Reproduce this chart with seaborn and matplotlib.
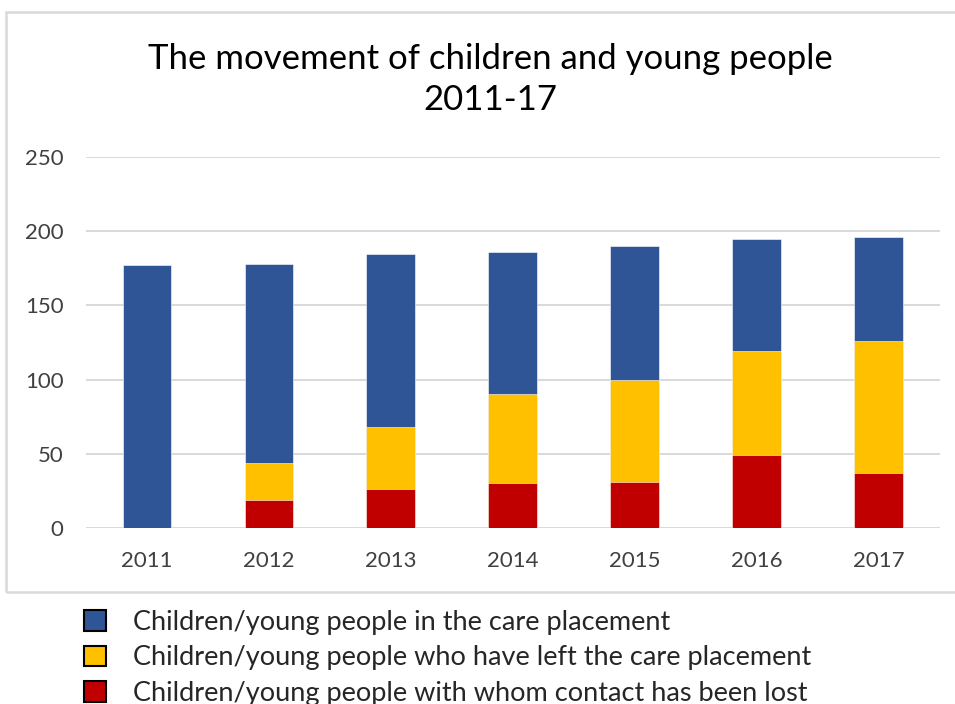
#!/usr/bin/env python3
# -*- coding: utf-8 -*-

"""
Stacked bar chart: the movement of children and young people 2011-17.
"""

import matplotlib.pyplot as plt
import seaborn as sns
from matplotlib.patches import Patch, Rectangle


# ==========================================================
# Data
# ==========================================================

YEARS = ["2011", "2012", "2013", "2014", "2015", "2016", "2017"]

IN_CARE = [177, 134, 117, 96, 90, 76, 70]
LEFT_CARE = [0, 25, 42, 60, 69, 70, 89]
CONTACT_LOST = [0, 19, 26, 30, 31, 49, 37]

SERIES_LABELS = [
    "Children/young people in the care placement",
    "Children/young people who have left the care placement",
    "Children/young people with whom contact has been lost",
]

TITLE = "The movement of children and young people\n2011-17"

Y_TICKS = [0, 50, 100, 150, 200, 250]

BLUE = "#2F5597"
YELLOW = "#FFC000"
RED = "#C00000"
GRID = "#D9D9D9"
TEXT = "#404040"


# ==========================================================
# Plot
# ==========================================================

def main():
    sns.set_theme(style="white")
    plt.rcParams["font.family"] = ["Lato", "DejaVu Sans"]

    fig = plt.figure(figsize=(9.55, 7.04), dpi=100)
    ax = fig.add_axes([0.090, 0.2504, 0.894, 0.5262])

    # cumulative heights so each layer sits on the one below
    lower = CONTACT_LOST
    middle = [r + y for r, y in zip(CONTACT_LOST, LEFT_CARE)]
    total = [m + b for m, b in zip(middle, IN_CARE)]

    for heights, color in [(total, BLUE), (middle, YELLOW), (lower, RED)]:
        sns.barplot(
            x=YEARS,
            y=heights,
            color=color,
            saturation=1,
            width=0.4,
            edgecolor="white",
            linewidth=0.4,
            ax=ax,
            zorder=3,
        )

    ax.set_ylim(0, 250)
    ax.set_xlim(-0.5, len(YEARS) - 0.5)
    ax.set_yticks(Y_TICKS)
    ax.set_xlabel("")
    ax.set_ylabel("")

    ax.yaxis.grid(True, color=GRID, linewidth=1.4, zorder=0)
    ax.xaxis.grid(False)
    for spine in ax.spines.values():
        spine.set_visible(False)

    ax.tick_params(axis="y", length=0, pad=16, labelsize=16, labelcolor=TEXT)
    ax.tick_params(axis="x", length=0, pad=17, labelsize=16, labelcolor=TEXT)

    fig.text(
        0.513, 0.887, TITLE,
        ha="center", va="center",
        fontsize=25, color="#000000", linespacing=1.38,
    )

    # light grey chart-area border
    fig.patches.append(
        Rectangle(
            (6 / 955, 1 - 592 / 704), 960 / 955, 580 / 704,
            transform=fig.transFigure, fill=False,
            edgecolor=GRID, linewidth=1.8,
        )
    )

    handles = [
        Patch(facecolor=c, edgecolor="black", linewidth=1.5)
        for c in [BLUE, YELLOW, RED]
    ]
    fig.legend(
        handles, SERIES_LABELS,
        loc="upper left",
        bbox_to_anchor=(84 / 955, 1 - 610 / 704),
        frameon=False,
        fontsize=19.5,
        handlelength=0.8,
        handleheight=0.8,
        handletextpad=1.0,
        labelspacing=0.38,
        borderpad=0,
        borderaxespad=0,
    )

    fig.savefig("out.png", dpi=100)
    plt.close(fig)


if __name__ == "__main__":
    main()
